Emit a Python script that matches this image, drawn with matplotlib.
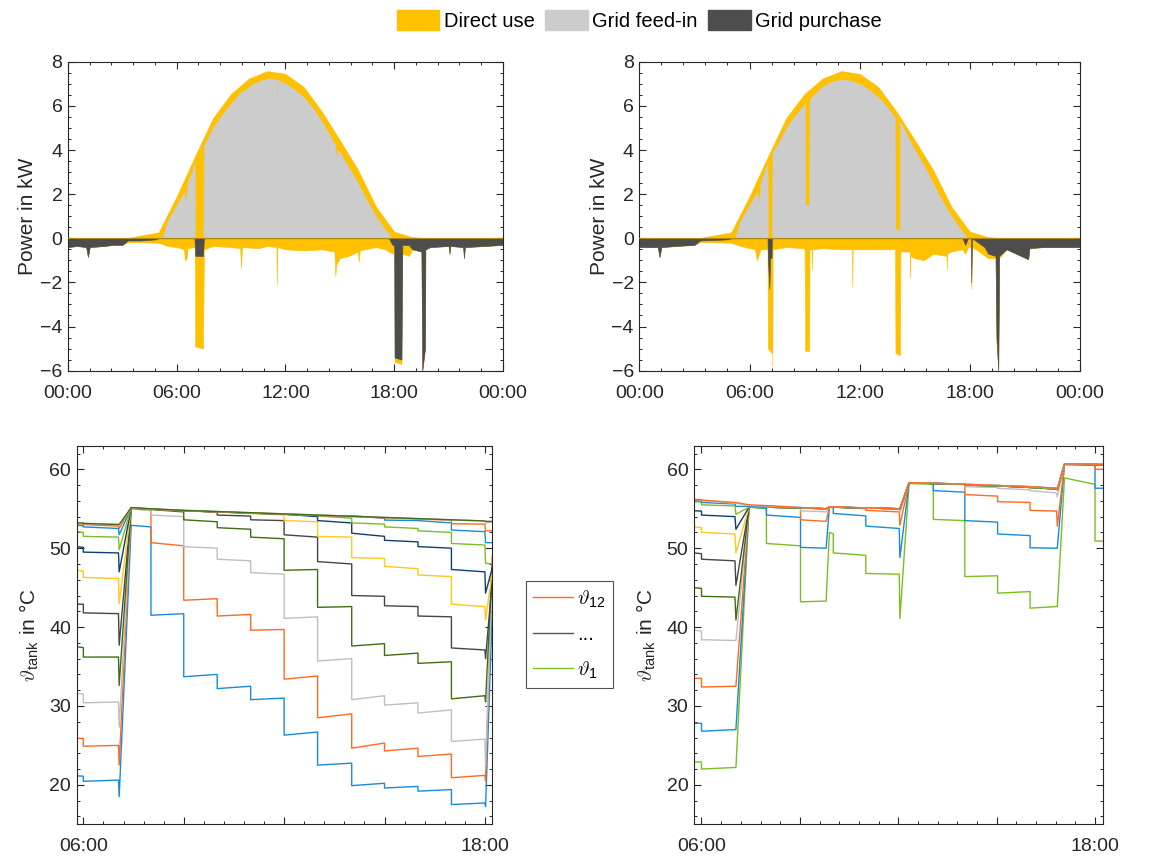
import numpy as np
import matplotlib
matplotlib.use("Agg")
import matplotlib.pyplot as plt
from matplotlib.ticker import MultipleLocator
from matplotlib.lines import Line2D
from matplotlib.patches import Patch

plt.rcParams["font.family"] = ["Liberation Sans", "DejaVu Sans"]
plt.rcParams["font.size"] = 14
plt.rcParams["mathtext.fontset"] = "custom"
plt.rcParams["mathtext.rm"] = "Liberation Sans"
plt.rcParams["mathtext.it"] = "cmmi10"
plt.rcParams["mathtext.fallback"] = "cm"

# ---------------- Daten: Leistung (oben) ----------------
pv_t = [0, 3.2, 4.0, 5.0, 6.0, 7.0, 8.0, 9.0, 10.0, 11.0, 12.0, 13.0, 14.0, 15.0, 16.0, 17.0, 18.0, 19.0, 20.0, 24]
pv_kw = [0, 0.0, 0.12, 0.27, 1.9, 3.7, 5.45, 6.55, 7.25, 7.58, 7.45, 6.87, 5.75, 4.45, 3.1, 1.43, 0.3, 0.05, 0, 0]

# links
feed_l_t = [5.2, 5.5, 6.0, 6.4, 6.5, 6.6, 7.0, 7.02, 7.47, 7.5, 8.0, 8.5, 9.0, 9.5, 9.8, 9.82, 9.84, 10.0, 10.5,
            11.0, 11.5, 11.52, 11.54, 12.0, 12.5, 13.0, 13.5, 14.0, 14.5, 14.75, 14.78, 14.85, 15.0, 15.5, 16.0,
            16.5, 17.0, 17.5, 17.9]
feed_l_kw = [0.0, 0.8, 1.5, 2.1, 1.6, 2.5, 3.4, 0.0, 0.0, 4.2, 5.0, 5.6, 6.1, 6.6, 6.75, 6.1, 6.75, 6.9, 7.1,
             7.25, 7.2, 5.4, 7.2, 7.0, 6.75, 6.4, 5.9, 5.3, 4.6, 4.2, 3.6, 4.0, 3.9, 3.2, 2.5,
             1.7, 1.0, 0.4, 0.0]
load_l_t = [0.0, 0.5, 1.0, 1.1, 1.2, 2.0, 2.5, 3.0, 3.3, 4.0, 5.0, 5.5, 6.0, 6.4, 6.45, 6.55, 6.6, 7.0, 7.02,
            7.45, 7.5, 8.0, 9.0, 9.5, 9.55, 9.6, 10.5, 11.0, 11.5, 11.52, 11.55, 12.0, 13.0, 14.0, 14.7,
            14.75, 14.8, 15.0, 15.5, 16.0, 16.05, 16.1, 17.0, 17.5, 17.9, 18.0, 18.02, 18.4, 18.45, 18.8,
            19.0, 19.5, 19.55, 19.7, 19.72, 20.0, 21.0, 21.05, 21.1, 21.8, 21.85, 21.9, 23.0, 24.0]
load_l_kw = [0.4, 0.35, 0.4, 0.85, 0.4, 0.35, 0.3, 0.3, 0.18, 0.18, 0.2, 0.35, 0.4, 0.5, 1.0, 0.9, 0.45, 0.4, 4.9,
             5.0, 0.5, 0.35, 0.4, 0.45, 1.35, 0.4, 0.45, 0.35, 0.4, 2.1, 0.4, 0.5, 0.55, 0.5, 0.6,
             1.7, 1.2, 0.9, 0.8, 0.6, 1.05, 0.55, 0.4, 0.5, 0.7, 0.5, 5.6, 5.7, 0.7, 0.8,
             0.5, 0.6, 6.0, 5.0, 0.5, 0.4, 0.35, 0.7, 0.35, 0.4, 0.9, 0.4, 0.35, 0.3]
buy_l_t = [0.0, 0.5, 1.0, 1.1, 1.2, 2.0, 2.5, 3.0, 3.3, 4.0, 4.8, 5.0, 6.98, 7.02, 7.45, 7.5, 17.7, 17.9, 18.0,
           18.02, 18.4, 18.45, 18.8, 19.0, 19.5, 19.55, 19.7, 19.72, 20.0, 21.0, 21.05, 21.1, 21.8, 21.85,
           21.9, 23.0, 24.0]
buy_l_kw = [0.4, 0.35, 0.4, 0.85, 0.4, 0.35, 0.3, 0.3, 0.1, 0.1, 0.05, 0.0, 0.0, 0.8, 0.8, 0.0, 0.0, 0.3, 0.3,
            5.4, 5.5, 0.3, 0.3, 0.5, 0.6, 6.0, 5.0, 0.5, 0.4, 0.35, 0.7, 0.35, 0.4, 0.9,
            0.4, 0.35, 0.3]

# rechts
feed_r_t = [5.2, 5.5, 6.0, 6.4, 6.5, 6.6, 6.98, 7.0, 7.23, 7.25, 7.5, 8.0, 8.5, 9.02, 9.04, 9.25, 9.27, 9.5,
            10.0, 10.5, 11.0, 11.5, 12.0, 12.5, 13.0, 13.5, 13.93, 13.95, 14.19, 14.21, 14.5, 15.0, 15.5,
            16.0, 16.5, 17.0, 17.5, 17.9]
feed_r_kw = [0.0, 0.8, 1.5, 2.1, 1.6, 2.5, 3.4, 0.0, 0.0, 3.9, 4.2, 5.0, 5.6, 6.1, 1.5, 1.5, 6.3, 6.5,
             6.9, 7.1, 7.2, 7.15, 7.0, 6.75, 6.4, 5.95, 5.45, 0.4, 0.4, 5.3, 4.8, 4.0, 3.3,
             2.5, 1.7, 1.0, 0.4, 0.0]
load_r_t = [0.0, 1.0, 1.1, 1.2, 2.0, 3.0, 3.3, 4.0, 5.0, 5.5, 6.3, 6.4, 6.6, 6.98, 7.0, 7.2, 7.22, 7.24, 7.26,
            8.0, 9.0, 9.03, 9.25, 9.27, 9.38, 9.4, 9.42, 10.0, 11.0, 11.58, 11.6, 11.62, 12.0, 13.0, 13.93,
            13.95, 14.2, 14.22, 14.73, 14.75, 14.77, 15.0, 15.5, 16.0, 16.73, 16.75, 16.77, 17.0, 17.6,
            17.75, 17.9, 18.06, 18.08, 18.12, 18.5, 19.0, 19.4, 19.45, 19.55, 19.6, 20.0, 21.18, 21.25,
            22.0, 24.0]
load_r_kw = [0.4, 0.4, 0.85, 0.4, 0.35, 0.3, 0.18, 0.18, 0.2, 0.35, 0.5, 1.0, 0.5, 0.5, 5.0, 5.2, 0.6, 5.8, 0.5,
             0.4, 0.45, 5.1, 5.1, 0.5, 0.5, 1.4, 0.5, 0.45, 0.5, 0.5, 2.2, 0.5, 0.5, 0.5, 0.5,
             5.2, 5.3, 0.6, 0.6, 1.8, 0.8, 0.9, 1.0, 0.7, 0.8, 1.4, 0.7, 0.6, 0.5,
             0.7, 0.4, 0.4, 2.3, 0.4, 0.6, 0.9, 0.9, 4.7, 6.0, 0.9, 0.5, 0.95, 0.45,
             0.4, 0.4]
buy_r_t = [0.0, 1.0, 1.1, 1.2, 2.0, 3.0, 3.3, 4.8, 5.0, 6.98, 7.0, 7.08, 7.12, 7.2, 7.22, 17.6, 17.75, 17.9,
           18.06, 18.08, 18.12, 18.3, 18.8, 19.0, 19.4, 19.45, 19.55, 19.6, 20.0, 21.18, 21.25, 22.0, 24.0]
buy_r_kw = [0.4, 0.4, 0.85, 0.4, 0.35, 0.3, 0.1, 0.05, 0.0, 0.0, 0.9, 2.3, 0.9, 0.9, 0.0, 0.0, 0.3, 0.0,
            0.0, 2.0, 0.0, 0.1, 0.4, 0.7, 0.8, 4.5, 6.0, 0.8, 0.5, 0.95, 0.45, 0.4, 0.4]

# ---------------- Daten: Speichertemperaturen (unten) ----------------
tl_hours = [5.8, 6.0, 6.0, 7.05, 7.07, 7.43, 8.02, 8.02, 9.0, 9.0, 10.0, 10.0, 11.0, 11.0, 12.0, 12.0,
            13.0, 13.0, 14.02, 14.02, 15.0, 15.0, 16.0, 16.0, 17.0, 17.0, 18.0, 18.02, 18.22]
temp_left = [
    [21.14, 21.1, 20.45, 20.6, 18.5, 52.9, 52.7, 41.5, 41.7, 33.7, 34.0, 32.2, 32.5, 30.8, 31.0, 26.3, 26.7, 22.5, 22.75, 19.9, 20.2, 19.6, 19.8, 19.2, 19.4, 17.5, 17.7, 17.25, 42.0],
    [25.9, 25.9, 24.9, 25.0, 22.5, 55.0, 54.8, 50.7, 50.3, 43.4, 43.6, 41.4, 41.6, 39.6, 39.7, 33.4, 33.8, 28.5, 29.0, 24.65, 25.3, 24.3, 24.65, 23.6, 23.9, 20.9, 21.2, 20.5, 49.0],
    [31.6, 31.5, 30.4, 30.5, 27.3, 55.1, 54.75, 54.2, 54.0, 50.2, 50.0, 48.6, 48.4, 46.9, 46.7, 41.1, 41.3, 35.7, 36.0, 30.8, 31.3, 30.1, 30.4, 29.1, 29.5, 25.5, 25.8, 22.5, 47.0],
    [37.5, 37.4, 36.2, 36.2, 32.6, 55.1, 54.9, 54.9, 54.6, 53.6, 53.35, 52.6, 52.4, 51.4, 51.2, 47.2, 47.3, 42.5, 42.6, 37.6, 37.9, 36.4, 36.7, 35.4, 35.6, 30.9, 31.3, 30.5, 48.0],
    [42.9, 42.9, 41.8, 41.7, 37.7, 55.1, 54.95, 54.95, 54.75, 54.75, 54.6, 54.2, 54.07, 53.6, 53.5, 51.7, 51.4, 48.3, 48.0, 44.0, 43.9, 42.7, 42.6, 41.4, 41.3, 37.35, 37.1, 36.0, 46.0],
    [47.2, 47.1, 46.3, 46.15, 43.0, 55.1, 54.95, 54.95, 54.75, 54.75, 54.6, 54.6, 54.45, 54.4, 54.2, 53.5, 53.35, 51.5, 51.4, 48.8, 48.7, 47.7, 47.4, 46.6, 46.4, 42.9, 42.6, 40.9, 47.0],
    [50.2, 50.1, 49.5, 49.4, 47.0, 55.1, 54.95, 54.95, 54.75, 54.75, 54.6, 54.6, 54.45, 54.45, 54.3, 54.3, 54.0, 53.5, 53.2, 51.9, 51.5, 51.0, 50.8, 50.2, 50.0, 47.3, 47.0, 44.3, 47.5],
    [52.1, 52.0, 51.5, 51.4, 49.8, 55.1, 54.95, 54.95, 54.75, 54.75, 54.6, 54.6, 54.45, 54.45, 54.3, 54.3, 54.15, 54.1, 53.8, 53.2, 53.05, 52.7, 52.5, 52.2, 52.0, 50.6, 50.4, 48.1, 48.0],
    [52.9, 52.85, 52.7, 52.5, 51.7, 55.1, 54.95, 54.95, 54.75, 54.75, 54.6, 54.6, 54.45, 54.45, 54.3, 54.3, 54.15, 54.15, 54.1, 54.1, 53.8, 53.56, 53.5, 53.5, 53.2, 52.3, 52.1, 50.7, 50.7],
    [53.1, 53.05, 53.0, 52.8, 52.5, 55.1, 54.95, 54.95, 54.75, 54.75, 54.6, 54.6, 54.45, 54.45, 54.3, 54.3, 54.15, 54.15, 54.0, 54.0, 53.85, 53.85, 53.7, 53.7, 53.56, 53.1, 53.05, 52.2, 52.2],
    [53.15, 53.1, 53.1, 53.0, 52.9, 55.1, 55.0, 55.0, 54.8, 54.8, 54.65, 54.65, 54.5, 54.5, 54.35, 54.35, 54.2, 54.2, 54.05, 54.05, 53.9, 53.9, 53.75, 53.75, 53.6, 53.6, 53.45, 53.2, 53.3],
    [53.2, 53.2, 53.15, 53.0, 53.0, 55.15, 55.0, 55.0, 54.8, 54.8, 54.65, 54.65, 54.5, 54.5, 54.35, 54.35, 54.2, 54.2, 54.05, 54.05, 53.9, 53.9, 53.75, 53.75, 53.6, 53.6, 53.45, 53.4, 53.4],
]

tr_hours = [5.77, 6.0, 6.0, 7.02, 7.05, 7.45, 7.98, 7.98, 9.02, 9.02, 9.8, 9.9, 10.02, 10.02, 11.01, 11.01,
            12.03, 12.05, 12.33, 13.07, 13.07, 14.03, 14.03, 15.03, 15.03, 16.02, 16.02, 16.83, 16.85,
            17.07, 18.0, 18.0, 18.25]
temp_right = [
    [22.9, 22.9, 22.0, 22.2, 22.2, 55.2, 55.0, 50.6, 50.3, 43.2, 43.3, 52.0, 51.8, 49.4, 49.1, 46.8, 46.7, 41.1, 58.2, 58.1, 53.65, 53.5, 46.4, 46.5, 44.3, 44.5, 42.4, 42.6, 42.6, 58.9, 58.1, 50.9, 50.9],
    [27.8, 27.8, 26.8, 27.0, 27.0, 55.2, 55.1, 54.2, 53.9, 50.1, 50.0, 55.2, 55.1, 54.4, 54.1, 52.8, 52.5, 48.8, 58.3, 58.2, 57.3, 57.1, 53.5, 53.3, 51.8, 51.6, 50.05, 50.0, 50.0, 60.6, 60.55, 57.6, 57.6],
    [33.5, 33.5, 32.4, 32.5, 32.5, 55.2, 55.2, 55.2, 55.1, 53.6, 53.4, 55.2, 55.2, 55.2, 55.0, 54.8, 54.6, 52.9, 58.3, 58.2, 58.2, 58.1, 56.8, 56.6, 55.9, 55.8, 54.8, 54.7, 52.8, 60.6, 60.55, 60.0, 60.0],
    [39.6, 39.5, 38.4, 38.3, 38.3, 55.2, 55.2, 55.2, 55.1, 54.75, 54.6, 55.2, 55.2, 55.2, 55.1, 55.1, 55.0, 54.5, 58.3, 58.25, 58.25, 58.1, 57.8, 57.7, 57.6, 57.4, 57.3, 57.0, 56.5, 60.6, 60.6, 60.5, 60.5],
    [45.0, 44.9, 43.9, 43.8, 40.9, 55.2, 55.2, 55.2, 55.1, 55.1, 55.0, 55.2, 55.2, 55.2, 55.1, 55.1, 55.0, 55.0, 58.3, 58.2, 58.2, 58.1, 58.0, 57.9, 57.9, 57.7, 57.7, 57.5, 57.4, 60.65, 60.6, 60.6, 60.6],
    [49.4, 49.3, 48.6, 48.4, 45.3, 55.2, 55.2, 55.2, 55.1, 55.1, 55.0, 55.2, 55.2, 55.2, 55.1, 55.1, 55.0, 55.0, 58.3, 58.2, 58.2, 58.1, 58.0, 57.9, 57.9, 57.7, 57.7, 57.5, 57.4, 60.65, 60.6, 60.6, 60.6],
    [52.7, 52.6, 52.0, 51.8, 49.4, 55.2, 55.2, 55.2, 55.1, 55.1, 55.0, 55.2, 55.2, 55.2, 55.1, 55.1, 55.0, 55.0, 58.3, 58.2, 58.2, 58.1, 58.0, 57.9, 57.9, 57.7, 57.7, 57.5, 57.4, 60.65, 60.6, 60.6, 60.6],
    [54.75, 54.7, 54.2, 54.0, 52.4, 55.2, 55.2, 55.2, 55.1, 55.1, 55.0, 55.2, 55.2, 55.2, 55.1, 55.1, 55.0, 55.0, 58.3, 58.2, 58.2, 58.1, 58.0, 57.9, 57.9, 57.7, 57.7, 57.5, 57.4, 60.65, 60.6, 60.6, 60.6],
    [55.9, 55.85, 55.5, 55.35, 54.3, 55.2, 55.2, 55.2, 55.1, 55.1, 55.0, 55.2, 55.2, 55.2, 55.1, 55.1, 55.0, 55.0, 58.3, 58.2, 58.2, 58.1, 58.0, 57.9, 57.9, 57.7, 57.7, 57.5, 57.4, 60.65, 60.6, 60.6, 60.6],
    [56.05, 56.0, 55.8, 55.6, 55.3, 55.3, 55.3, 55.3, 55.15, 55.15, 55.0, 55.25, 55.25, 55.25, 55.1, 55.1, 55.0, 54.9, 58.3, 58.25, 58.25, 58.1, 58.1, 57.95, 57.95, 57.8, 57.8, 57.6, 57.5, 60.7, 60.65, 60.65, 60.6],
    [56.15, 56.1, 56.0, 55.7, 55.7, 55.4, 55.35, 55.35, 55.15, 55.15, 55.0, 55.25, 55.25, 55.25, 55.1, 55.1, 55.0, 55.0, 58.3, 58.25, 58.25, 58.1, 58.1, 57.95, 57.95, 57.8, 57.8, 57.6, 57.5, 60.7, 60.65, 60.65, 60.6],
    [56.2, 56.15, 56.1, 55.8, 55.8, 55.5, 55.4, 55.4, 55.15, 55.15, 55.0, 55.25, 55.25, 55.25, 55.1, 55.1, 55.0, 55.0, 58.3, 58.25, 58.25, 58.1, 58.1, 57.95, 57.95, 57.8, 57.8, 57.6, 57.5, 60.7, 60.65, 60.65, 60.6],
]

# Farben
c_direct = "#FFC000"
c_feed = "#CCCCCC"
c_buy = "#4D4D4D"
c_blue, c_orange, c_lgray, c_dgreen = "#1A8BD9", "#FF6A1F", "#BFBFBF", "#3F6E12"
c_dgray, c_yellow, c_dblue, c_lgreen = "#454545", "#FFC81A", "#0E3F70", "#7BBE22"
colors_left = [c_blue, c_orange, c_lgray, c_dgreen, c_dgray, c_yellow, c_dblue, c_lgreen,
               c_blue, c_orange, c_lgray, c_dgreen]
colors_right = [c_lgreen, c_blue, c_orange, c_lgray, c_dgreen, c_dgray, c_yellow, c_dblue,
                c_lgreen, c_blue, c_lgray, c_orange]

top_ticks = [0, 6, 12, 18, 24]
top_labels = ["00:00", "06:00", "12:00", "18:00", "00:00"]
bot_ticks = [6, 9, 12, 15, 18]
bot_labels = ["06:00", "", "", "", "18:00"]

txt = "#262626"


def stil(ax):
    for s in ax.spines.values():
        s.set_color(txt)
        s.set_linewidth(0.8)
    ax.tick_params(which="both", direction="in", top=True, right=True, colors=txt, labelcolor=txt)
    ax.tick_params(which="major", length=5, width=0.8)
    ax.tick_params(which="minor", length=2.5, width=0.7)
    ax.tick_params(axis="x", which="major", pad=10)
    ax.tick_params(axis="y", which="major", pad=4)


fig = plt.figure(figsize=(11.74, 8.58), dpi=100)

ax_tl = fig.add_axes([0.0579, 0.568, 0.3705, 0.360])
ax_tr = fig.add_axes([0.5446, 0.568, 0.3753, 0.360])
ax_bl = fig.add_axes([0.0653, 0.0393, 0.354, 0.4413])
ax_br = fig.add_axes([0.5911, 0.0393, 0.3486, 0.4413])

for ax, ft, fk, lt, lk, bt, bk in [
    (ax_tl, feed_l_t, feed_l_kw, load_l_t, load_l_kw, buy_l_t, buy_l_kw),
    (ax_tr, feed_r_t, feed_r_kw, load_r_t, load_r_kw, buy_r_t, buy_r_kw),
]:
    ax.fill_between(pv_t, 0, pv_kw, color=c_direct, lw=0.4, ec=c_direct)
    ax.fill_between(ft, 0, fk, color=c_feed, lw=0.3, ec=c_feed)
    ax.fill_between(lt, 0, -np.array(lk), color=c_direct, lw=0.4, ec=c_direct)
    ax.fill_between(bt, 0, -np.array(bk), color=c_buy, lw=0.4, ec=c_buy)
    ax.axhline(0, color="#B08A10", lw=0.8, zorder=3)
    ax.set_xlim(0, 24)
    ax.set_ylim(-6, 8)
    ax.set_xticks(top_ticks)
    ax.set_xticklabels(top_labels)
    ax.xaxis.set_minor_locator(MultipleLocator(1.2))
    ax.yaxis.set_major_locator(MultipleLocator(2))
    ax.yaxis.set_minor_locator(MultipleLocator(0.5))
    ax.set_ylabel("Power in kW", fontsize=15, color=txt, labelpad=2)
    stil(ax)

for ax, th, temps, cols, xl in [
    (ax_bl, tl_hours, temp_left, colors_left, (5.8, 18.22)),
    (ax_br, tr_hours, temp_right, colors_right, (5.77, 18.25)),
]:
    for vals, c in zip(temps, cols):
        ax.plot(th, vals, color=c, lw=1.0)
    ax.set_xlim(*xl)
    ax.set_ylim(15, 63)
    ax.set_xticks(bot_ticks)
    ax.set_xticklabels(bot_labels)
    ax.xaxis.set_minor_locator(MultipleLocator(0.6))
    ax.yaxis.set_major_locator(MultipleLocator(10))
    ax.yaxis.set_minor_locator(MultipleLocator(2))
    ax.set_ylabel(r"$\vartheta_{\mathrm{tank}}$ in °C", fontsize=15, color=txt, labelpad=6)
    stil(ax)

# Legende oben
hdl = [Patch(color=c_direct), Patch(color=c_feed), Patch(color=c_buy)]
fig.legend(hdl, ["Direct use", "Grid feed-in", "Grid purchase"], loc="center",
           bbox_to_anchor=(0.5445, 0.976), ncol=3, frameon=False, handlelength=2.1,
           handleheight=1.15, handletextpad=0.2, columnspacing=0.55, fontsize=14.5)

# Legende mitte
lh = [Line2D([], [], color=c_orange, lw=1.0), Line2D([], [], color="#555555", lw=1.0),
      Line2D([], [], color=c_lgreen, lw=1.0)]
leg = fig.legend(lh, [r"$\vartheta_{12}$", "...", r"$\vartheta_{1}$"], loc="center",
                 bbox_to_anchor=(0.4848, 0.2605), frameon=True, fancybox=False,
                 edgecolor=txt, handlelength=2.0, handletextpad=0.2, labelspacing=0.75,
                 fontsize=14.5, borderpad=0.35)
leg.get_frame().set_linewidth(0.8)

fig.savefig("out.png", dpi=100)
